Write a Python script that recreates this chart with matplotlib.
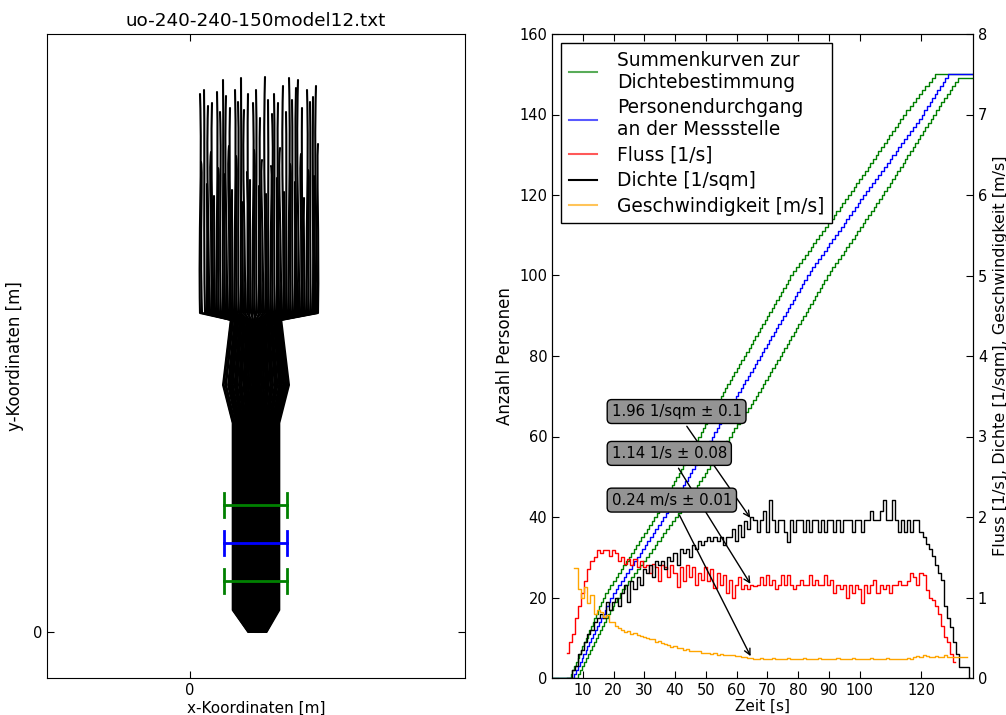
import numpy as np
import matplotlib
matplotlib.use("Agg")
import matplotlib.pyplot as plt
from matplotlib.lines import Line2D
from matplotlib.path import Path
from matplotlib.patches import PathPatch

# ---- trajectories (m): start point, x at y=23, y=20 and y=15.95, lane in corridor (-1..1)
traj_x_top = [0.5, 0.55, 0.7, 0.85, 0.9, 1.05, 1.1, 1.2, 1.35, 1.4, 1.5, 1.65, 1.7, 1.8, 1.95,
              2.0, 2.1, 2.25, 2.3, 2.4, 2.55, 2.6, 2.7, 2.85, 2.9, 3.0, 3.15, 3.2, 3.3, 3.45,
              3.5, 3.6, 3.75, 3.8, 3.9, 4.05, 4.1, 4.2, 4.35, 4.4, 4.5, 4.65, 4.7, 4.8, 4.95,
              5.0, 5.1, 5.25, 5.3, 5.4, 5.55, 5.6, 5.7, 5.85, 5.9, 6.0, 6.15, 6.2, 6.3, 6.4]
traj_y_top = [26.9, 23.5, 27.1, 22.4, 26.3, 24.0, 26.45, 21.8, 27.0, 23.2, 26.0, 27.6, 22.9, 26.8, 24.3,
              26.2, 22.1, 27.1, 23.8, 26.5, 27.7, 21.5, 26.1, 23.0, 26.9, 22.6, 26.45, 24.1, 27.1, 22.3,
              25.7, 23.6, 27.75, 21.9, 26.6, 23.3, 25.9, 26.9, 22.7, 26.45, 24.2, 27.3, 22.0, 26.0, 27.7,
              23.4, 26.6, 22.5, 27.2, 27.6, 23.9, 26.2, 21.7, 27.1, 23.1, 26.5, 26.75, 22.8, 27.3, 24.4]
traj_x_a = [0.62, 0.65, 0.75, 0.82, 0.8, 0.93, 1.02, 1.2, 1.43, 1.52, 1.6, 1.69, 1.66, 1.7, 1.83,
            1.93, 2.12, 2.34, 2.42, 2.49, 2.58, 2.55, 2.59, 2.73, 2.84, 3.03, 3.25, 3.32, 3.38, 3.46,
            3.44, 3.49, 3.63, 3.75, 3.94, 4.15, 4.22, 4.27, 4.35, 4.33, 4.38, 4.54, 4.66, 4.85, 5.06,
            5.12, 5.16, 5.23, 5.21, 5.28, 5.45, 5.57, 5.76, 5.96, 6.02, 6.05, 6.12, 6.11, 6.18, 6.32]
traj_x_b = [0.42, 0.48, 0.67, 0.87, 0.97, 1.13, 1.16, 1.2, 1.29, 1.32, 1.43, 1.62, 1.73, 1.87, 2.03,
            2.05, 2.09, 2.19, 2.22, 2.34, 2.53, 2.64, 2.78, 2.93, 2.94, 2.98, 3.08, 3.12, 3.24, 3.44,
            3.54, 3.68, 3.83, 3.84, 3.87, 3.98, 4.02, 4.15, 4.35, 4.45, 4.58, 4.73, 4.73, 4.77, 4.87,
            4.92, 5.06, 5.26, 5.36, 5.48, 5.62, 5.62, 5.66, 5.77, 5.82, 5.97, 6.17, 6.26, 6.38, 6.46]
traj_x_low = [0.5, 0.6, 0.75, 0.85, 0.95, 1.05, 1.15, 1.25, 1.35, 1.45, 1.55, 1.65, 1.75, 1.85, 1.95,
              2.05, 2.15, 2.25, 2.35, 2.45, 2.55, 2.65, 2.75, 2.85, 2.95, 3.05, 3.15, 3.25, 3.35, 3.45,
              3.55, 3.65, 3.75, 3.85, 3.95, 4.05, 4.15, 4.25, 4.35, 4.45, 4.55, 4.65, 4.75, 4.85, 4.95,
              5.05, 5.15, 5.25, 5.35, 5.45, 5.55, 5.65, 5.75, 5.85, 5.95, 6.05, 6.15, 6.25, 6.35, 6.4]
traj_lane = [-0.95, -0.90, -0.97, -0.82, -0.88, -0.76, -0.80, -0.70, -0.74, -0.63, -0.68, -0.57, -0.61, -0.50, -0.55,
             -0.44, -0.48, -0.37, -0.42, -0.31, -0.35, -0.24, -0.28, -0.18, -0.22, -0.11, -0.15, -0.05, -0.08, 0.02,
             -0.02, 0.09, 0.05, 0.15, 0.11, 0.22, 0.18, 0.28, 0.24, 0.35, 0.31, 0.42, 0.37, 0.48, 0.44,
             0.55, 0.50, 0.61, 0.57, 0.68, 0.63, 0.74, 0.70, 0.80, 0.76, 0.87, 0.83, 0.93, 0.89, 0.97]
wp_y = [23.0, 20.0, 15.95]

# bottleneck geometry: (y, centre, half width) for the entrance, the bulge, corridor, exit
neck_y = [15.6, 12.35, 10.45, 1.1, 0.0]
neck_c = [3.3, 3.3, 3.3, 3.3, 3.37]
neck_h = [1.3, 1.7, 1.2, 1.2, 0.47]

# measurement lines (y, colour), x extent and cap half height
meas_y = [6.35, 4.45, 2.55]
meas_col = ['green', 'blue', 'green']
meas_x = (1.7, 4.85)
cap_h = 0.6

# ---- cumulative curves: crossing time [s] of every person
t_green_a = [6.1, 6.6, 7.2, 7.7, 8.3, 8.8, 9.4, 9.9, 10.5, 11.0, 11.6, 12.1, 12.7, 13.2, 13.8, 14.3, 14.9, 15.4, 16.0, 16.5,
             17.3, 18.2, 19.0, 19.9, 20.7, 21.5, 22.4, 23.2, 24.1, 24.9, 25.7, 26.6, 27.4, 28.3, 29.1, 29.9, 30.8, 31.6, 32.5, 33.3,
             34.0, 34.7, 35.4, 36.2, 36.9, 37.6, 38.3, 39.0, 39.7, 40.4, 41.2, 41.9, 42.6, 43.3, 44.0, 44.7, 45.4, 46.2, 46.9, 47.6,
             48.3, 49.0, 49.7, 50.4, 51.1, 51.9, 52.6, 53.3, 54.0,
             54.8, 55.5, 56.3, 57.0, 57.8, 58.5, 59.3, 60.1, 60.8, 61.6, 62.3, 63.1, 63.9, 64.6, 65.4, 66.1, 66.9, 67.6, 68.4, 69.2,
             69.9, 70.7, 71.4, 72.2, 73.0, 73.7, 74.5, 75.2, 76.0, 76.7, 77.5,
             78.4, 79.4, 80.3, 81.3, 82.2, 83.1, 84.1, 85.0, 86.0, 86.9, 87.8, 88.8, 89.7, 90.7, 91.6, 92.5, 93.5, 94.4, 95.4, 96.3,
             97.2, 98.1, 99.0, 99.9, 100.8, 101.7, 102.6, 103.5, 104.4, 105.3, 106.1, 107.0, 107.9, 108.8, 109.7, 110.6, 111.5,
             112.4, 113.3, 114.2, 115.2, 116.3, 117.3, 118.3, 119.4, 120.4, 121.4, 122.5, 123.5, 124.5]
t_blue = [7.1, 7.7, 8.4, 9.0, 9.6, 10.2, 10.9, 11.5, 12.1, 12.7, 13.4, 14.0, 14.6, 15.2, 15.9, 16.5, 17.1, 17.7, 18.4, 19.0,
          19.9, 20.7, 21.6, 22.4, 23.3, 24.2, 25.0, 25.9, 26.8, 27.6, 28.5, 29.3, 30.2, 31.0, 31.9, 32.8, 33.6, 34.5, 35.4, 36.2,
          37.0, 37.8, 38.6, 39.3, 40.1, 40.9, 41.7, 42.5, 43.3, 44.1, 44.8, 45.6, 46.4, 47.2, 48.0, 48.8, 49.6, 50.4, 51.1, 51.9,
          52.7, 53.5, 54.3, 55.1, 55.9, 56.6, 57.4, 58.2, 59.0,
          59.8, 60.5, 61.3, 62.1, 62.9, 63.6, 64.4, 65.2, 65.9, 66.7, 67.5, 68.3, 69.0, 69.8, 70.6, 71.3, 72.1, 72.9, 73.6, 74.4,
          75.2, 76.0, 76.7, 77.5, 78.3, 79.0, 79.8, 80.6, 81.4, 82.1, 82.9,
          83.8, 84.7, 85.6, 86.6, 87.5, 88.4, 89.3, 90.2, 91.1, 92.1, 93.0, 93.9, 94.8, 95.7, 96.6, 97.5, 98.5, 99.4, 100.3, 101.2,
          102.2, 103.1, 104.1, 105.0, 106.0, 106.9, 107.9, 108.8, 109.8, 110.7, 111.7, 112.6, 113.6, 114.5, 115.5, 116.4, 117.4,
          118.3, 119.3, 120.2, 121.1, 121.9, 122.8, 123.6, 124.5, 125.3, 126.2, 127.0, 127.9, 128.7]
t_green_b = [8.4, 9.1, 9.7, 10.4, 11.1, 11.7, 12.4, 13.0, 13.7, 14.4, 15.0, 15.7, 16.4, 17.0, 17.7, 18.3, 19.0, 19.7, 20.3, 21.0,
             22.0, 22.9, 23.9, 24.8, 25.8, 26.7, 27.7, 28.6, 29.6, 30.5, 31.5, 32.4, 33.4, 34.3, 35.3, 36.2, 37.2, 38.1, 39.1, 40.0,
             40.9, 41.8, 42.6, 43.5, 44.4, 45.3, 46.2, 47.0, 47.9, 48.8, 49.7, 50.5, 51.4, 52.3, 53.2, 54.1, 54.9, 55.8, 56.7, 57.6,
             58.5, 59.3, 60.2, 61.1, 62.0, 62.8, 63.7, 64.6, 65.5,
             66.3, 67.0, 67.8, 68.6, 69.4, 70.1, 70.9, 71.7, 72.4, 73.2, 74.0, 74.8, 75.5, 76.3, 77.1, 77.8, 78.6, 79.4, 80.1, 80.9,
             81.7, 82.5, 83.2, 84.0, 84.8, 85.5, 86.3, 87.1, 87.9, 88.6, 89.4,
             90.3, 91.2, 92.1, 93.0, 93.9, 94.8, 95.7, 96.6, 97.5, 98.4, 99.2, 100.1, 101.0, 101.9, 102.8, 103.7, 104.6, 105.5,
             106.4, 107.3, 108.1, 109.0, 109.8, 110.6, 111.5, 112.3, 113.1, 114.0, 114.8, 115.6, 116.4, 117.3, 118.1, 118.9,
             119.8, 120.6, 121.4, 122.3, 123.1, 123.9, 124.8, 125.7, 126.6, 127.5, 128.4, 129.3, 130.2, 131.1, 132.0]
t_end = 136.6

# ---- measured quantities, one value per second
rho_t0 = 5
rho = [0.0, 0.0, 0.1, 0.15, 0.3, 0.35, 0.45, 0.55, 0.6, 0.7, 0.75, 0.8, 0.75, 0.95, 0.85, 0.95, 1.0, 0.9, 1.05, 1.15,
       0.95, 1.2, 1.1, 1.25, 1.15, 1.35, 1.3, 1.4, 1.25, 1.45, 1.4, 1.45, 1.35, 1.5, 1.45, 1.55, 1.4, 1.6, 1.55, 1.6,
       1.5, 1.65, 1.6, 1.7, 1.65, 1.7, 1.75, 1.7, 1.75, 1.7, 1.75, 1.65, 1.75, 1.75, 1.85, 1.7, 1.9, 1.75, 1.95, 1.85,
       2.0, 1.96, 1.81, 1.96, 2.08, 1.81, 2.21, 1.96, 1.81, 1.96, 1.96, 1.81, 1.69, 1.96, 1.81, 1.96, 1.96, 1.81, 1.96, 1.81,
       1.96, 1.96, 1.81, 1.96, 1.81, 1.96, 1.96, 1.81, 1.96, 1.81, 1.96, 1.96, 1.96, 1.81, 1.96, 1.96, 1.81, 1.96, 1.96, 2.08,
       1.96, 1.96, 2.08, 2.21, 1.96, 1.96, 2.21, 1.96, 1.81, 1.96, 1.81, 1.96, 1.81, 1.96, 1.96,
       1.81, 1.75, 1.67, 1.6, 1.51, 1.4, 1.3, 1.22, 0.9, 0.75, 0.63, 0.45, 0.3, 0.14, 0.14, 0.14, 0.0]
flow_t0 = 5
flow = [0.31, 0.45, 0.55, 0.75, 0.9, 1.05, 1.2, 1.35, 1.45, 1.5, 1.59, 1.55, 1.59, 1.59, 1.52, 1.59, 1.55, 1.45, 1.5, 1.42,
        1.48, 1.4, 1.48, 1.38, 1.45, 1.38, 1.4, 1.3, 1.42, 1.38, 1.2, 1.4, 1.38, 1.25, 1.4, 1.3, 1.13, 1.38, 1.2, 1.4,
        1.25, 1.38, 1.15, 1.3, 1.22, 1.38, 1.2, 1.35, 1.12, 1.3, 1.16, 1.28, 1.05, 1.22, 1.0, 1.16, 1.25, 1.1, 1.16, 1.1,
        1.16, 1.14, 1.16, 1.25, 1.16, 1.28, 1.16, 1.22, 1.1, 1.16, 1.28, 1.16, 1.28, 1.16, 1.1,
        1.16, 1.22, 1.16, 1.16, 1.28, 1.16, 1.22, 1.16, 1.16, 1.28, 1.16, 1.22, 1.05, 1.16, 1.1, 1.16, 1.0, 1.16, 1.05, 1.16,
        1.1, 0.93, 1.16, 1.05, 1.16, 1.22, 1.05, 1.16, 1.1, 1.16, 1.05, 1.16,
        1.16, 1.2, 1.16, 1.16, 1.2, 1.3, 1.25, 1.16, 1.3, 1.28, 1.09, 0.99, 0.97, 0.9, 0.8, 0.65, 0.51, 0.45, 0.3, 0.2]
vel_t0 = 7
vel = [1.37, 1.37, 1.1, 1.0, 1.13, 0.93, 1.03, 0.8, 0.84, 0.82, 0.76, 0.78, 0.7, 0.69, 0.65, 0.62, 0.6, 0.57, 0.58, 0.55,
       0.56, 0.53, 0.52, 0.51, 0.5, 0.48, 0.49, 0.45, 0.46, 0.43, 0.42, 0.41, 0.39, 0.4, 0.37, 0.37, 0.35, 0.36, 0.34, 0.34,
       0.33, 0.34, 0.31, 0.31, 0.31, 0.3, 0.31, 0.29, 0.3, 0.29, 0.29, 0.28, 0.28, 0.27, 0.27, 0.26, 0.26, 0.25, 0.25,
       0.24, 0.23, 0.25, 0.24, 0.23, 0.24, 0.25, 0.24, 0.23, 0.24, 0.24, 0.25, 0.23, 0.24, 0.24, 0.23, 0.25, 0.24,
       0.24, 0.23, 0.24, 0.25, 0.24, 0.23, 0.24, 0.24, 0.23, 0.25, 0.24, 0.24, 0.23, 0.24, 0.25, 0.24, 0.23, 0.24,
       0.24, 0.23, 0.25, 0.24, 0.24, 0.23, 0.24, 0.25, 0.24, 0.23, 0.24, 0.24, 0.23, 0.24, 0.25, 0.24,
       0.26, 0.27, 0.26, 0.28, 0.27, 0.26, 0.26, 0.27, 0.26, 0.26, 0.28, 0.26, 0.26, 0.26, 0.26, 0.26, 0.26, 0.26]

# mean values in the stationary state and their deviation
stat_labels = ['1.96 1/sqm \u00b1 0.1', '1.14 1/s \u00b1 0.08', '0.24 m/s \u00b1 0.01']
stat_values = [1.96, 1.14, 0.24]
stat_t = 65
label_y = [3.31, 2.79, 2.21]
label_t = 19.4

time_ticks = [10, 20, 30, 40, 50, 60, 70, 80, 90, 100, 120]

# ── figure ─────────────────────────────────────────────────────
fig = plt.figure(figsize=(10.06, 7.15), dpi=100)
ax0 = fig.add_axes([47 / 1006, 37 / 715, 418 / 1006, 644 / 715])
ax = fig.add_axes([552 / 1006, 37 / 715, 421 / 1006, 644 / 715])
ax2 = ax.twinx()

# left: trajectories through the bottleneck; smooth bezier in the waiting area,
# straight pieces through the bottleneck
for i in range(len(traj_x_top)):
    u = traj_lane[i]
    x0, y0 = traj_x_top[i], traj_y_top[i]
    xa, xb, xl = traj_x_a[i], traj_x_b[i], traj_x_low[i]
    ya, yb, yl = wp_y
    if y0 > ya:
        verts = [(x0, y0), (xa, ya), (xb, yb), (xl, yl)]
        codes = [Path.MOVETO, Path.CURVE4, Path.CURVE4, Path.CURVE4]
    elif y0 > yb:
        verts = [(x0, y0), (xb, yb), (xl, yl)]
        codes = [Path.MOVETO, Path.CURVE3, Path.CURVE3]
    else:
        verts = [(x0, y0), (xl, yl)]
        codes = [Path.MOVETO, Path.LINETO]
    for c, h, yn in zip(neck_c, neck_h, neck_y):
        verts.append((c + u * h, yn))
        codes.append(Path.LINETO)
    ax0.add_patch(PathPatch(Path(verts, codes), fill=False, edgecolor='black', lw=1.5,
                            joinstyle='round', capstyle='round', zorder=2))

for y, col in zip(meas_y, meas_col):
    ax0.plot(meas_x, [y, y], color=col, lw=2, zorder=4)
    for xc in meas_x:
        ax0.plot([xc, xc], [y - cap_h, y + cap_h], color=col, lw=2, zorder=4)

ax0.set_xlim(-7.15, 13.75)
ax0.set_ylim(-2.3, 29.9)
ax0.set_xticks([0])
ax0.set_yticks([0])
ax0.tick_params(direction='in', top=True, right=True, labelsize=10.5, length=5)
ax0.set_title('uo-240-240-150model12.txt', fontsize=13.2)
ax0.set_xlabel('x-Koordinaten [m]', fontsize=11, labelpad=2)
ax0.set_ylabel('y-Koordinaten [m]', fontsize=12, labelpad=6)


# right: cumulative curves and measured quantities
def cumulative(times):
    n = len(times)
    return np.r_[0, times, t_end], np.r_[0, np.arange(1, n + 1), n]


for times, col in [(t_green_a, 'green'), (t_blue, 'blue'), (t_green_b, 'green')]:
    xs, ys = cumulative(times)
    ax.plot(xs, ys, color=col, lw=1, drawstyle='steps-post')

ax2.plot(flow_t0 + np.arange(len(flow)), flow, color='red', lw=1, drawstyle='steps-mid')
ax2.plot(rho_t0 + np.arange(len(rho)), rho, color='black', lw=1, drawstyle='steps-mid')
ax2.plot(vel_t0 + np.arange(len(vel)), vel, color='orange', lw=1, drawstyle='steps-mid')

for txt, val, ly in zip(stat_labels, stat_values, label_y):
    ax2.annotate(txt, xy=(stat_t, val), xytext=(label_t, ly), ha='left', va='center', fontsize=10.7,
                 bbox=dict(boxstyle='round,pad=0.3', fc='0.58', ec='black'),
                 arrowprops=dict(arrowstyle='->', color='black', lw=1))

ax.set_xlim(0, 136.9)
ax.set_ylim(0, 160)
ax2.set_ylim(0, 8)
ax.set_xticks(time_ticks)
ax.set_yticks(np.arange(0, 161, 20))
ax.tick_params(direction='in', top=True, right=False, labelsize=10.5, length=5)
ax2.tick_params(direction='in', labelsize=10.5, length=5)
ax.set_xlabel('Zeit [s]', fontsize=11, labelpad=1)
ax.set_ylabel('Anzahl Personen', fontsize=12)
ax2.set_ylabel('Fluss [1/s], Dichte [1/sqm], Geschwindigkeit [m/s]', fontsize=11.5)

handles = [
    Line2D([0], [0], color='green', alpha=0.65, label='Summenkurven zur\nDichtebestimmung'),
    Line2D([0], [0], color='blue', alpha=0.65, label='Personendurchgang\nan der Messstelle'),
    Line2D([0], [0], color='red', alpha=0.65, label='Fluss [1/s]'),
    Line2D([0], [0], color='black', label='Dichte [1/sqm]'),
    Line2D([0], [0], color='orange', alpha=0.65, label='Geschwindigkeit [m/s]'),
]
leg = ax2.legend(handles=handles, loc='upper left', fontsize=13.4, fancybox=False,
                 edgecolor='black', framealpha=1, labelspacing=0.35,
                 handlelength=1.5, handletextpad=1.1, borderpad=0.4)
leg.get_frame().set_linewidth(1)

fig.savefig('out.png', dpi=100)
